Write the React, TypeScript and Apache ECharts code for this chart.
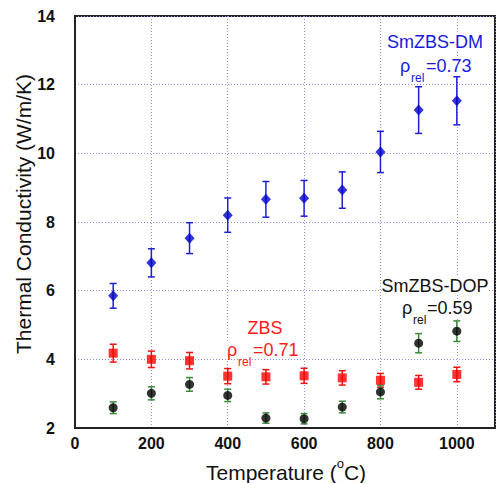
import React, { useEffect, useRef } from "react";
import * as echarts from "echarts";

const temps = [100, 200, 300, 400, 500, 600, 700, 800, 900, 1000];
const dmValues = [5.85, 6.81, 7.53, 8.2, 8.66, 8.69, 8.93, 10.04, 11.26, 11.53];
const dmErr = [0.36, 0.41, 0.45, 0.5, 0.52, 0.52, 0.53, 0.6, 0.68, 0.7];
const zbsValues = [4.18, 4.0, 3.96, 3.51, 3.49, 3.52, 3.46, 3.39, 3.33, 3.56];
const zbsErr = [0.26, 0.24, 0.24, 0.22, 0.21, 0.22, 0.21, 0.2, 0.2, 0.21];
const dopValues = [2.59, 3.01, 3.27, 2.95, 2.29, 2.27, 2.61, 3.05, 4.47, 4.82];
const dopErr = [0.17, 0.19, 0.2, 0.18, 0.15, 0.15, 0.17, 0.2, 0.28, 0.3];

const FONT = "'Liberation Sans', Arial, Helvetica, sans-serif";

function errorSeries(values: number[], errs: number[], color: string) {
  return {
    type: "custom",
    z: 2,
    renderItem: (params: any, api: any) => {
      const x = api.value(0);
      const top = api.coord([x, api.value(2)]);
      const bot = api.coord([x, api.value(1)]);
      const w = 3.5;
      const style = { stroke: color, lineWidth: 1.5 };
      return {
        type: "group",
        children: [
          { type: "line", shape: { x1: top[0], y1: top[1], x2: bot[0], y2: bot[1] }, style },
          { type: "line", shape: { x1: top[0] - w, y1: top[1], x2: top[0] + w, y2: top[1] }, style },
          { type: "line", shape: { x1: bot[0] - w, y1: bot[1], x2: bot[0] + w, y2: bot[1] }, style },
        ],
      };
    },
    encode: { x: 0, y: [1, 2] },
    data: temps.map((t, i) => [t, values[i] - errs[i], values[i] + errs[i]]),
  };
}

function scatterSeries(values: number[], symbol: string, size: any, color: string) {
  return {
    type: "scatter",
    z: 3,
    symbol,
    symbolSize: size,
    itemStyle: { color },
    data: temps.map((t, i) => [t, values[i]]),
  };
}

function rhoLabel(x1: number, x2: number, x3: number, y: number, value: string, color: string) {
  const base = { fill: color, fontFamily: FONT, verticalAlign: "middle", align: "left" };
  return [
    { type: "text", x: x1, y, z: 10, style: { ...base, text: "ρ", fontSize: 18, backgroundColor: "#fff" } },
    { type: "text", x: x2, y: y + 12, z: 10, style: { ...base, text: "rel", fontSize: 12 } },
    { type: "text", x: x3, y, z: 10, style: { ...base, text: value, fontSize: 18, backgroundColor: "#fff" } },
  ];
}

export default function App() {
  const ref = useRef<HTMLDivElement>(null);
  useEffect(() => {
    if (!ref.current) return;
    const chart = echarts.init(ref.current, null, { renderer: "svg" });
    const gridLine = { lineStyle: { color: "#8f8fe8", type: [1, 2], width: 1 } };
    chart.setOption({
      animation: false,
      backgroundColor: "#fff",
      grid: {
        left: 75,
        right: 2,
        top: 16,
        bottom: 55,
        show: true,
        borderColor: "#222",
        borderWidth: 2,
        backgroundColor: "transparent",
      },
      xAxis: {
        type: "value",
        min: 0,
        max: 1100,
        interval: 200,
        axisLine: { show: true, lineStyle: { color: "#222", width: 2 } },
        axisTick: { show: false },
        splitLine: { show: true, ...gridLine },
        axisLabel: {
          fontFamily: FONT,
          fontSize: 16,
          fontWeight: "bold",
          color: "#111",
          margin: 7,
          showMaxLabel: false,
          formatter: (v: number) => (v > 1000 ? "" : String(v)),
        },
      },
      yAxis: {
        type: "value",
        min: 2,
        max: 14,
        interval: 2,
        axisLine: { show: true, lineStyle: { color: "#222", width: 2 } },
        axisTick: { show: false },
        splitLine: { show: true, ...gridLine },
        axisLabel: {
          fontFamily: FONT,
          fontSize: 16,
          fontWeight: "bold",
          color: "#111",
          margin: 20,
        },
      },
      graphic: [
        {
          type: "text",
          x: 286,
          y: 470,
          style: {
            text: "{a|Temperature (}{s|o}{a|C)}",
            fontFamily: FONT,
            align: "center",
            verticalAlign: "middle",
            fill: "#111",
            rich: {
              a: { fontSize: 21, fontFamily: FONT, color: "#111", lineHeight: 26, verticalAlign: "bottom" },
              s: { fontSize: 13, fontFamily: FONT, color: "#111", lineHeight: 26, verticalAlign: "top", padding: [0, 0, 10, 0] },
            },
          },
        },
        {
          type: "text",
          x: 23,
          y: 214,
          rotation: Math.PI / 2,
          style: {
            text: "Thermal Conductivity (W/m/K)",
            fontFamily: FONT,
            fontSize: 21,
            fill: "#111",
            align: "center",
            verticalAlign: "middle",
          },
        },
        {
          type: "text",
          x: 435,
          y: 42,
          z: 10,
          style: { text: "SmZBS-DM", fontFamily: FONT, fontSize: 18, fill: "#1a1ade", align: "center", verticalAlign: "middle", backgroundColor: "#fff" },
        },
        ...rhoLabel(400, 411, 426, 66, "=0.73", "#1a1ade"),
        {
          type: "text",
          x: 435,
          y: 286,
          z: 10,
          style: { text: "SmZBS-DOP", fontFamily: FONT, fontSize: 18, fill: "#111", align: "center", verticalAlign: "middle", backgroundColor: "#fff" },
        },
        ...rhoLabel(402, 413, 427, 308, "=0.59", "#111"),
        {
          type: "text",
          x: 265,
          y: 328,
          z: 10,
          style: { text: "ZBS", fontFamily: FONT, fontSize: 18, fill: "#ff1a1a", align: "center", verticalAlign: "middle", backgroundColor: "#fff" },
        },
        ...rhoLabel(227, 238, 253, 350, "=0.71", "#ff1a1a"),
      ],
      series: [
        errorSeries(dmValues, dmErr, "#1f1fd6"),
        errorSeries(zbsValues, zbsErr, "#ee1111"),
        errorSeries(dopValues, dopErr, "#3b8a3b"),
        scatterSeries(dmValues, "diamond", [10, 11], "#0000cc"),
        scatterSeries(zbsValues, "rect", 9, "#ff0000"),
        scatterSeries(dopValues, "circle", 9, "#000000"),
      ],
    });
    return () => chart.dispose();
  }, []);
  return (
    <div
      ref={ref}
      style={{ position: "fixed", left: 0, top: 0, width: 497, height: 483, background: "#fff" }}
    />
  );
}
